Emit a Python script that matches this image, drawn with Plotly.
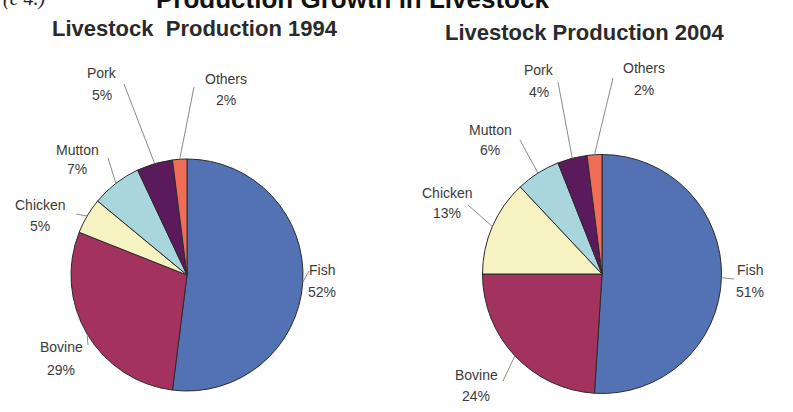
import math
import plotly.graph_objects as go

W, H = 793, 412

categories = ["Fish", "Bovine", "Chicken", "Mutton", "Pork", "Others"]
share_1994 = [52, 29, 5, 7, 5, 2]
share_2004 = [51, 24, 13, 6, 4, 2]
slice_colors = ["#5272b4", "#a3325e", "#f6f2c2", "#a9d5dd", "#5a1a5c", "#f06e58"]

main_title = "Production Growth in Livestock"
panel_titles = ["Livestock  Production 1994", "Livestock Production 2004"]


def fx(x):
    return x / W


def fy(y):
    return 1 - y / H


# pixel placement of each pie and of its labels:
# name -> (text x, name y, percent y, leader start x, leader start y)
panels = [
    dict(values=share_1994, cx=187, cy=275, r=116,
         title_xy=(195, 29),
         labels={
             "Fish": (322, 270, 292, 309, 271),
             "Bovine": (61, 347, 370, 88, 345),
             "Chicken": (40, 205, 226, 76, 214),
             "Mutton": (77, 150, 169, 108, 158),
             "Pork": (102, 73, 95, 124, 84),
             "Others": (226, 79, 100, 194, 87),
         }),
    dict(values=share_2004, cx=602, cy=274, r=119.5,
         title_xy=(585, 33),
         labels={
             "Fish": (750, 270, 292, 734, 279),
             "Bovine": (476, 375, 396, 503, 381),
             "Chicken": (447, 193, 213, 468, 205),
             "Mutton": (490, 130, 150, 520, 140),
             "Pork": (539, 70, 92, 558, 82),
             "Others": (644, 68, 90, 613, 78),
         }),
]

fig = go.Figure()
annotations = []
shapes = []
sans = "Liberation Sans, Arial, sans-serif"
label_font = dict(family=sans, size=14, color="#3a3a3a")

for i, p in enumerate(panels):
    cx, cy, r = p["cx"], p["cy"], p["r"]
    fig.add_trace(go.Pie(
        labels=categories,
        values=p["values"],
        sort=False,
        direction="clockwise",
        rotation=0,
        textinfo="none",
        hoverinfo="label+percent",
        marker=dict(colors=slice_colors, line=dict(color="#2b2b2b", width=1)),
        domain=dict(x=[fx(cx - r), fx(cx + r)], y=[fy(cy + r), fy(cy - r)]),
        showlegend=False,
    ))

    total = sum(p["values"])
    cum = 0
    for name, val in zip(categories, p["values"]):
        mid = (cum + val / 2) / total
        cum += val
        theta = 2 * math.pi * mid
        ex = cx + r * math.sin(theta)
        ey = cy - r * math.cos(theta)
        tx, ny, vy, ax, ay = p["labels"][name]
        annotations.append(dict(x=fx(tx), y=fy(ny), xref="paper", yref="paper",
                                text=name, showarrow=False, font=label_font,
                                xanchor="center", yanchor="middle"))
        annotations.append(dict(x=fx(tx), y=fy(vy), xref="paper", yref="paper",
                                text=f"{val}%", showarrow=False, font=label_font,
                                xanchor="center", yanchor="middle"))
        shapes.append(dict(type="line", xref="paper", yref="paper",
                           x0=fx(ax), y0=fy(ay), x1=fx(ex), y1=fy(ey),
                           line=dict(color="#8a8a8a", width=1)))

    tx, ty = p["title_xy"]
    annotations.append(dict(x=fx(tx), y=fy(ty), xref="paper", yref="paper",
                            text=f"<b>{panel_titles[i]}</b>",
                            showarrow=False, xanchor="center", yanchor="middle",
                            font=dict(family=sans, size=22, color="#2a2a2a")))

# heading running off the top edge
annotations.append(dict(x=fx(352), y=fy(-1), xref="paper", yref="paper",
                        text=f"<b>{main_title}</b>", showarrow=False,
                        xanchor="center", yanchor="middle",
                        font=dict(family=sans, size=26, color="#111111")))
annotations.append(dict(x=fx(24), y=fy(-2), xref="paper", yref="paper",
                        text="<i>(c 4.)</i>", showarrow=False,
                        xanchor="center", yanchor="middle",
                        font=dict(family="Liberation Serif, serif", size=20, color="#222222")))

fig.update_layout(
    width=W, height=H,
    margin=dict(l=0, r=0, t=0, b=0),
    paper_bgcolor="white",
    plot_bgcolor="white",
    annotations=annotations,
    shapes=shapes,
)

fig.write_html("out.html")
